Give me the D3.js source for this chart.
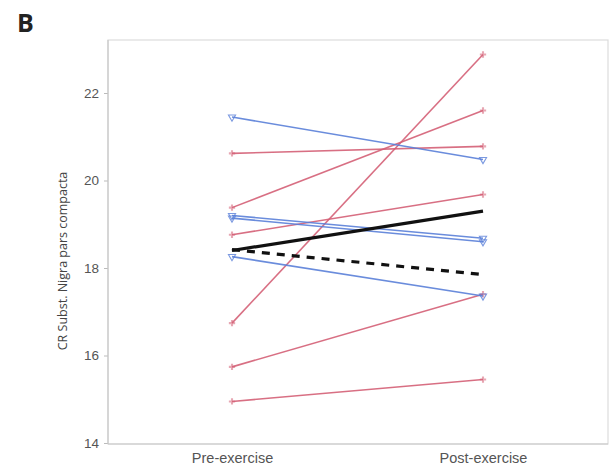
<!DOCTYPE html>
<html>
<head>
<meta charset="utf-8">
<script src="https://cdn.jsdelivr.net/npm/d3@7"></script>
<style>
  html, body { margin: 0; padding: 0; background: #fff; }
  svg { display: block; font-family: "Open Sans", "Noto Sans", sans-serif; }
</style>
</head>
<body>
<svg id="chart" width="615" height="476"></svg>
<script>
// ---- data ----
const timepoints = ["Pre-exercise", "Post-exercise"];
const yTicks = [14, 16, 18, 20, 22];
const redPre  = [20.62, 19.38, 18.76, 16.74, 15.74, 14.95];
const redPost = [20.78, 21.60, 19.68, 22.88, 17.40, 15.45];
const bluePre  = [21.45, 19.20, 19.14, 18.26];
const bluePost = [20.48, 18.68, 18.60, 17.36];
const meanSolid  = [18.40, 19.30];
const meanDashed = [18.42, 17.85];

// ---- layout ----
const svg = d3.select("#chart");
const frame = { left: 108, right: 608, top: 40, bottom: 444 };
const x = d3.scalePoint().domain(timepoints).range([232, 483]);
const y = d3.scaleLinear().domain([14, 22]).range([443, 93]);

const red = "#d45f75";
const blue = "#5a7fd8";

// frame (light box)
svg.append("rect")
  .attr("x", frame.left).attr("y", frame.top)
  .attr("width", frame.right - frame.left).attr("height", frame.bottom - frame.top)
  .attr("fill", "none").attr("stroke", "#dcdcdc").attr("stroke-width", 1.2);

// left axis
const yAxis = d3.axisLeft(y).tickValues(yTicks).tickSize(4).tickPadding(5);
const gy = svg.append("g").attr("transform", `translate(${frame.left},0)`).call(yAxis);
gy.select(".domain").remove();
gy.selectAll(".tick line").attr("stroke", "#bbb");
gy.selectAll(".tick text").attr("fill", "#555").style("font-size", "13.5px");
svg.append("line").attr("x1", frame.left).attr("x2", frame.left)
  .attr("y1", frame.top).attr("y2", frame.bottom).attr("stroke", "#c8c8c8").attr("stroke-width", 1.2);

// bottom axis
const xAxis = d3.axisBottom(x).tickSize(0).tickPadding(9);
const gx = svg.append("g").attr("transform", `translate(0,${frame.bottom})`).call(xAxis);
gx.select(".domain").remove();
gx.selectAll(".tick text").attr("fill", "#555").style("font-size", "14.5px");
svg.append("line").attr("x1", frame.left).attr("x2", frame.right)
  .attr("y1", frame.bottom).attr("y2", frame.bottom).attr("stroke", "#c8c8c8").attr("stroke-width", 1.2);

// y-axis title
svg.append("text")
  .attr("transform", `translate(67,${(frame.top + frame.bottom) / 2 + 19}) rotate(-90)`)
  .attr("text-anchor", "middle")
  .attr("fill", "#444").style("font-size", "12.5px")
  .text("CR Subst. Nigra pars compacta");

// panel label
svg.append("text").attr("x", 17).attr("y", 32)
  .style("font-size", "25px").style("font-weight", "bold").attr("fill", "#222")
  .text("B");

const line = d3.line().x((d, i) => x(timepoints[i])).y(d => y(d));

function drawSubject(pre, post, color, marker) {
  pre.forEach((v, i) => {
    const vals = [v, post[i]];
    svg.append("path").datum(vals).attr("d", line)
      .attr("fill", "none").attr("stroke", color).attr("stroke-width", 1.6).attr("opacity", 0.9);
    vals.forEach((val, j) => {
      const cx = x(timepoints[j]), cy = y(val);
      if (marker === "tri") {
        svg.append("path")
          .attr("d", d3.symbol().type(d3.symbolTriangle).size(22)())
          .attr("transform", `translate(${cx},${cy}) rotate(180)`)
          .attr("fill", "none").attr("stroke", color).attr("stroke-width", 1.1).attr("opacity", 0.8);
      } else {
        svg.append("path")
          .attr("d", d3.symbol().type(d3.symbolCross).size(22)())
          .attr("transform", `translate(${cx},${cy})`)
          .attr("fill", color).attr("opacity", 0.55);
      }
    });
  });
}

drawSubject(redPre, redPost, red, "cross");
drawSubject(bluePre, bluePost, blue, "tri");

// summary lines
svg.append("path").datum(meanSolid).attr("d", line)
  .attr("fill", "none").attr("stroke", "#111").attr("stroke-width", 3.2);
svg.append("path").datum(meanDashed).attr("d", line)
  .attr("fill", "none").attr("stroke", "#111").attr("stroke-width", 3.2)
  .attr("stroke-dasharray", "8,7");
</script>
</body>
</html>
